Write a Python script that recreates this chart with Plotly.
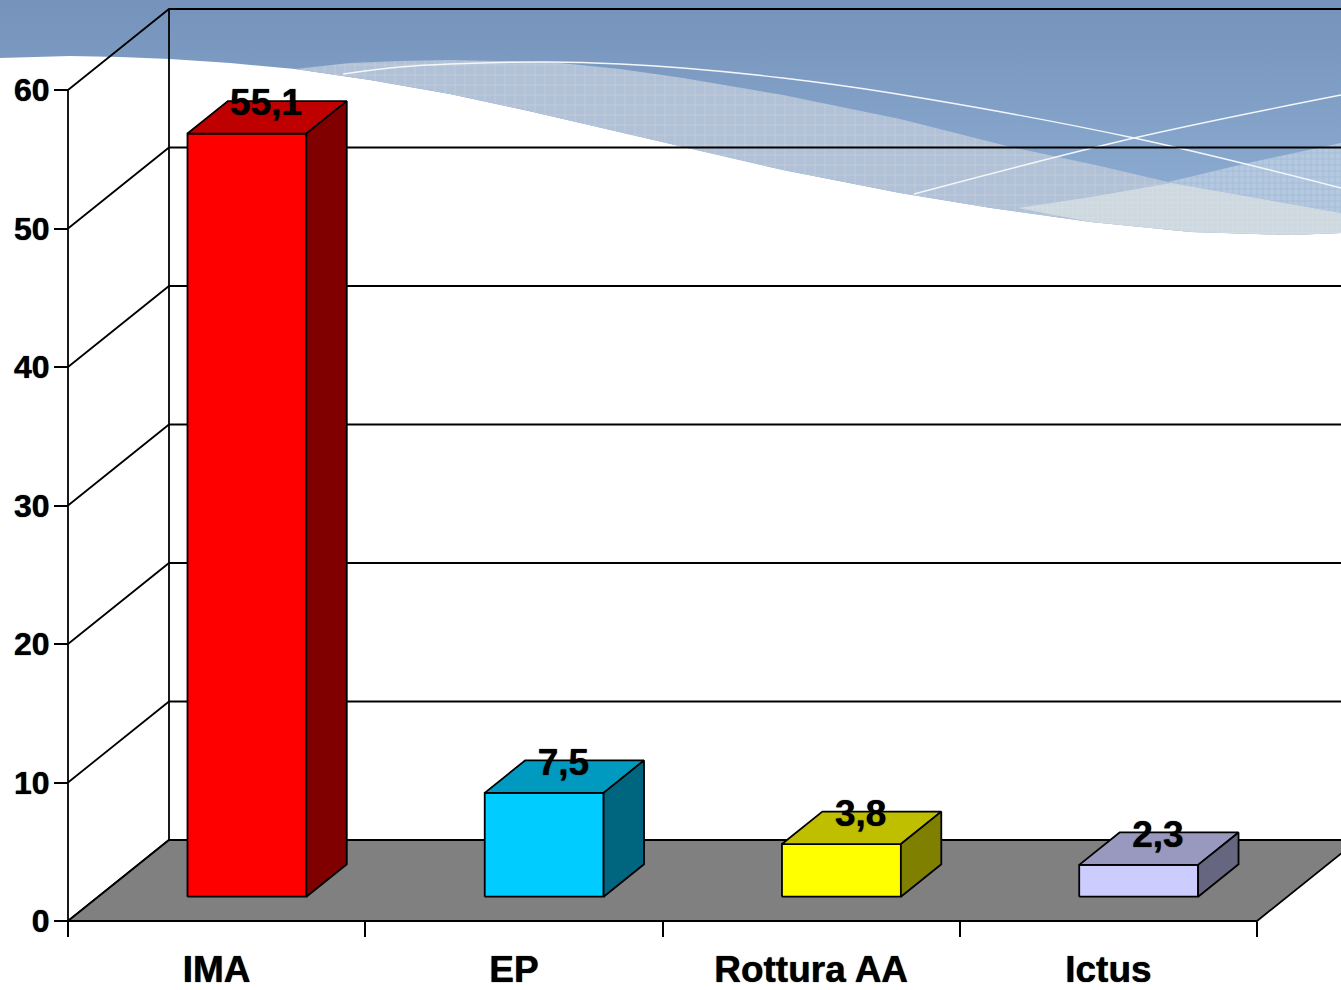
import plotly.graph_objects as go

# ---------- chart data ----------
categories = ["IMA", "EP", "Rottura AA", "Ictus"]
values = [55.1, 7.5, 3.8, 2.3]
value_labels = ["55,1", "7,5", "3,8", "2,3"]
front_colors = ["#FF0000", "#00CCFF", "#FFFF00", "#CCCCFF"]
top_colors = ["#BF0000", "#0099BF", "#BFBF00", "#9999BF"]
side_colors = ["#800000", "#006680", "#808000", "#666680"]
y_ticks = [0, 10, 20, 30, 40, 50, 60]

# ---------- slide background artwork (page pixels) ----------
wave_top_x = [0, 35, 70, 120, 170, 230, 295, 370, 450, 533, 610, 683, 783, 900, 991, 1091, 1191, 1291, 1341]
wave_top_y = [58, 57, 56, 57, 59, 63, 69, 80, 94, 112, 130, 147, 170, 193, 208, 222, 232, 235, 233]
hatch_up_x = [295, 350, 400, 450, 550, 620, 683, 783, 900, 1011, 1100, 1168, 1341]
hatch_up_y = [69, 63, 61, 60, 62, 69, 78, 95, 119, 147, 166, 182, 213]
dense_x = [1168, 1248, 1341, 1341, 1171]
dense_y = [182, 163, 143, 213, 183]
pale_up_x = [1018, 1091, 1171, 1250, 1341]
pale_up_y = [208, 197, 183, 197, 213]
line_a_x = [343, 400, 450, 550, 620, 683, 783, 891, 1134, 1341]
line_a_y = [74, 67, 64, 62, 64, 68, 78, 93, 138, 188]
line_b_x = [914, 1134, 1341]
line_b_y = [194, 138, 95]

# ---------- geometry ----------
W, H = 1341, 990
X0_PX, Y0_PX = 68, 921
PX_PER_CAT = 297.25
PX_PER_UNIT = 13.85
DEPTH_X = 101 / PX_PER_CAT
DEPTH_Y = 81 / PX_PER_UNIT
BAR_A, BAR_B = 0.3, 0.7
N = len(categories)
YMAX = max(y_ticks)
FONT = "Liberation Sans"
LW = 1.8
HEAVY = "0 0 1px #000"


def proj(x, y, d):
    return x + d * DEPTH_X, y + d * DEPTH_Y


fig = go.Figure()


def art_fill(xs, ys, **kw):
    fig.add_trace(go.Scatter(x=xs + xs[:1], y=ys + ys[:1], mode="lines", fill="toself",
                             line=dict(width=0), hoverinfo="skip", showlegend=False,
                             xaxis="x", yaxis="y", **kw))


# blue band
art_fill([0, W] + wave_top_x[::-1], [0, 0] + wave_top_y[::-1],
         fillcolor="#7C9AC2",
         fillgradient=dict(type="vertical", colorscale=[[0, "#91B0D6"], [1, "#7593BA"]]))
# hatched band
art_fill(hatch_up_x + wave_top_x[::-1][:-7], hatch_up_y + wave_top_y[::-1][:-7],
         fillcolor="#B0C1D8",
         fillpattern=dict(shape="+", bgcolor="#B0C1D8", fgcolor="#DCDDD6", size=10, solidity=0.15))
# denser hatch at right
art_fill(dense_x, dense_y, fillcolor="#A9C0DC",
         fillpattern=dict(shape="+", bgcolor="#B4C8DF", fgcolor="#8FADD3", size=6, solidity=0.25))
# pale hatch
art_fill(pale_up_x + [1341, 1291, 1191, 1091],
         pale_up_y + [233, 235, 232, 222],
         fillcolor="#D5DCE2",
         fillpattern=dict(shape="+", bgcolor="#CDD8E1", fgcolor="#DDE1DF", size=5, solidity=0.3))
for lx, ly in ((line_a_x, line_a_y), (line_b_x, line_b_y)):
    fig.add_trace(go.Scatter(x=lx, y=ly, mode="lines", hoverinfo="skip", showlegend=False,
                             line=dict(color="#F4F7FA", width=1.4, shape="spline"),
                             xaxis="x", yaxis="y"))


def chart_line(xs, ys, width=LW):
    fig.add_trace(go.Scatter(x=xs, y=ys, mode="lines", hoverinfo="skip", showlegend=False,
                             line=dict(color="black", width=width), xaxis="x2", yaxis="y2"))


def face(points, color):
    xs = [p[0] for p in points] + [points[0][0]]
    ys = [p[1] for p in points] + [points[0][1]]
    fig.add_trace(go.Scatter(x=xs, y=ys, mode="lines", fill="toself", fillcolor=color,
                             line=dict(color="black", width=LW), hoverinfo="skip",
                             showlegend=False, xaxis="x2", yaxis="y2"))


# walls and gridlines
for v in y_ticks:
    a, b, c = proj(0, v, 0), proj(0, v, 1), proj(N, v, 1)
    chart_line([a[0], b[0], c[0]], [a[1], b[1], c[1]])
a, b = proj(0, 0, 1), proj(0, YMAX, 1)
chart_line([a[0], b[0]], [a[1], b[1]])
chart_line([0, 0], [0, YMAX])

# floor
face([proj(0, 0, 0), proj(0, 0, 1), proj(N, 0, 1), proj(N, 0, 0)], "#808080")
chart_line([0, N], [0, 0], width=2.2)

# 3D bars
for i, v in enumerate(values):
    x0, x1 = i + BAR_A, i + BAR_B
    face([proj(x0, 0, BAR_A), proj(x1, 0, BAR_A), proj(x1, v, BAR_A), proj(x0, v, BAR_A)], front_colors[i])
    face([proj(x0, v, BAR_A), proj(x1, v, BAR_A), proj(x1, v, BAR_B), proj(x0, v, BAR_B)], top_colors[i])
    face([proj(x1, 0, BAR_A), proj(x1, 0, BAR_B), proj(x1, v, BAR_B), proj(x1, v, BAR_A)], side_colors[i])

# value labels
fig.add_trace(go.Scatter(x=[i + 0.5 + 0.49 * DEPTH_X for i in range(N)],
                         y=[v + 0.64 * DEPTH_Y for v in values], mode="text",
                         text=value_labels, textposition="middle center", hoverinfo="skip",
                         textfont=dict(family=FONT, size=37, color="black", weight="bold", shadow=HEAVY),
                         showlegend=False, xaxis="x2", yaxis="y2", cliponaxis=False))

fig.update_layout(
    width=W, height=H, autosize=False,
    margin=dict(l=0, r=0, t=0, b=0, autoexpand=False),
    paper_bgcolor="white", plot_bgcolor="rgba(0,0,0,0)",
    showlegend=False,
    xaxis=dict(domain=[0, 1], range=[0, W], visible=False, fixedrange=True),
    yaxis=dict(domain=[0, 1], range=[H, 0], visible=False, fixedrange=True),
    xaxis2=dict(
        domain=[0, 1], anchor="free", position=(H - Y0_PX) / H, overlaying="x",
        range=[-X0_PX / PX_PER_CAT, (W - X0_PX) / PX_PER_CAT],
        tickmode="array", tickvals=[i + 0.5 for i in range(N)], ticktext=categories,
        ticks="", showgrid=False, zeroline=False, showline=False,
        ticklabelstandoff=23,
        tickfont=dict(family=FONT, size=37, color="black", weight="bold", shadow=HEAVY),
        minor=dict(tickmode="array", tickvals=list(range(N + 1)), ticks="outside",
                   ticklen=15, tickwidth=LW, tickcolor="black", showgrid=False),
    ),
    yaxis2=dict(
        domain=[0, 1], anchor="free", position=X0_PX / W, overlaying="y",
        range=[-(H - Y0_PX) / PX_PER_UNIT, Y0_PX / PX_PER_UNIT],
        tickmode="array", tickvals=y_ticks, ticks="outside", ticklen=14,
        tickwidth=LW, tickcolor="black", showgrid=False, zeroline=False, showline=False,
        ticklabelstandoff=-2,
        tickfont=dict(family=FONT, size=32, color="black", weight="bold", shadow=HEAVY),
    ),
)

fig.write_html("out.html", config=dict(displayModeBar=False),
               post_script="document.body.style.margin='0';document.body.style.overflow='hidden';")
